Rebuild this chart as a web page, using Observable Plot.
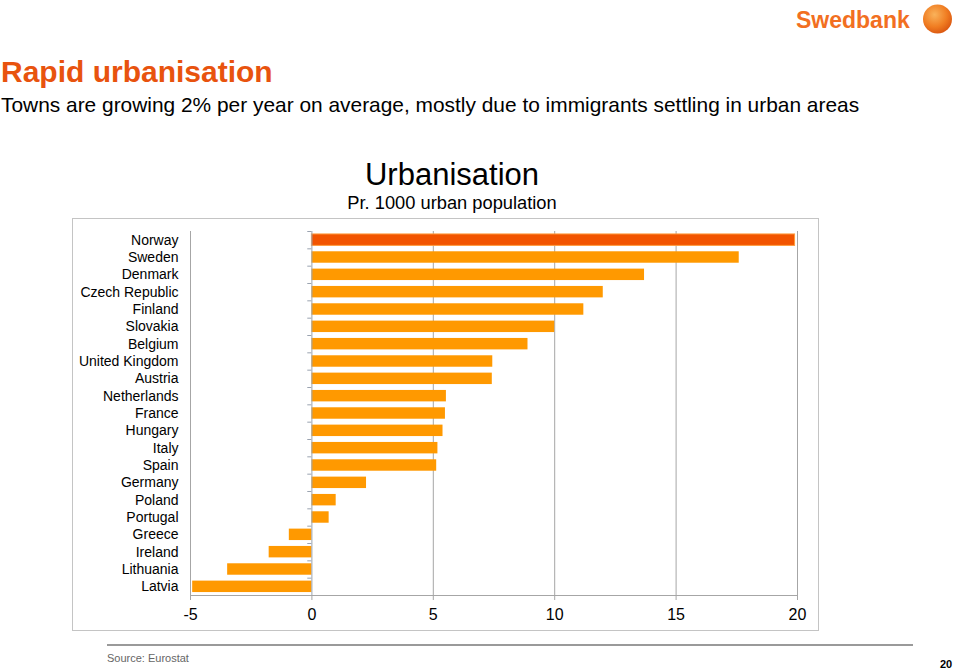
<!DOCTYPE html>
<html>
<head>
<meta charset="utf-8">
<script src="https://cdn.jsdelivr.net/npm/d3@7"></script>
<script src="https://cdn.jsdelivr.net/npm/@observablehq/plot@0.6"></script>
<style>
  html, body { margin: 0; padding: 0; background: #fff; }
  body { width: 960px; height: 669px; position: relative; overflow: hidden; font-family: "Liberation Sans", Arial, sans-serif; }
  #overlay { position: absolute; left: 0; top: 0; }
  #chartbox { position: absolute; left: 72px; top: 218px; width: 745px; height: 411px; border: 1.5px solid #c4c4c4; }
  #chart { position: absolute; left: 0; top: 0; }
</style>
</head>
<body>
<svg id="overlay" width="960" height="669">
  <defs>
    <radialGradient id="logoGrad" cx="0.4" cy="0.35" r="0.7">
      <stop offset="0" stop-color="#f9b25a"/>
      <stop offset="0.6" stop-color="#f07d22"/>
      <stop offset="1" stop-color="#d9540f"/>
    </radialGradient>
  </defs>
  <text x="796" y="28" font-family="'Liberation Sans', Arial, sans-serif" font-weight="bold" font-size="23" fill="#f26f21">Swedbank</text>
  <circle cx="937.5" cy="19" r="14.5" fill="url(#logoGrad)"/>
  <text x="1" y="82" font-family="'Liberation Sans', Arial, sans-serif" font-weight="bold" font-size="30" fill="#e8530e">Rapid urbanisation</text>
  <text x="1" y="112" font-family="'Liberation Sans', Arial, sans-serif" font-size="20.9" fill="#000">Towns are growing 2% per year on average, mostly due to immigrants settling in urban areas</text>
  <text x="452" y="185" text-anchor="middle" font-family="'Liberation Sans', Arial, sans-serif" font-size="31" fill="#000">Urbanisation</text>
  <text x="452" y="209" text-anchor="middle" font-family="'Liberation Sans', Arial, sans-serif" font-size="18.3" fill="#000">Pr. 1000 urban population</text>
  <line x1="107" x2="913" y1="645" y2="645" stroke="#9a9a9a" stroke-width="2"/>
  <text x="107" y="662" font-family="'Liberation Sans Narrow', 'Liberation Sans', Arial, sans-serif" font-size="11" fill="#666">Source:  Eurostat</text>
  <text x="940" y="668" font-family="'Liberation Sans Narrow', 'Liberation Sans', Arial, sans-serif" font-weight="bold" font-size="11" fill="#000">20</text>
</svg>
<div id="chartbox"><div id="chart"></div></div>
<script>
const countries = ["Norway", "Sweden", "Denmark", "Czech Republic", "Finland", "Slovakia", "Belgium",
  "United Kingdom", "Austria", "Netherlands", "France", "Hungary", "Italy", "Spain", "Germany",
  "Poland", "Portugal", "Greece", "Ireland", "Lithuania", "Latvia"];
const values = [19.9, 17.6, 13.7, 12.0, 11.2, 10.0, 8.9, 7.45, 7.43, 5.54, 5.5, 5.4, 5.19, 5.14, 2.25,
  1.0, 0.71, -0.93, -1.76, -3.47, -4.91];
const highlight = ["Norway"];
const xTicks = [-5, 0, 5, 10, 15, 20];

const data = countries.map((c, i) => ({country: c, value: values[i]}));

const W = 745, H = 411, mTop = 12, mBottom = 35, mLeft = 117, mRight = 21;
const step = (H - mTop - mBottom) / (countries.length);

const chart = Plot.plot({
  width: W,
  height: H,
  marginTop: mTop,
  marginBottom: mBottom,
  marginLeft: mLeft,
  marginRight: mRight,
  style: {fontFamily: "'Liberation Sans', Arial, sans-serif", background: "transparent", color: "#000"},
  x: {domain: [-5, 20], ticks: xTicks, label: null},
  y: {domain: countries, paddingInner: 0.34, paddingOuter: 0.17, round: false, label: null},
  marks: [
    Plot.gridX(xTicks.filter(t => t > 0), {stroke: "#a6a6a6", strokeOpacity: 1, strokeWidth: 1}),
    Plot.frame({anchor: "bottom", stroke: "#a6a6a6", strokeWidth: 1}),
    Plot.ruleX([-5], {stroke: "#a6a6a6", strokeWidth: 1}),
    Plot.barX(data, {
      x: "value", y: "country",
      fill: d => highlight.includes(d.country) ? "#f25400" : "#ff9900",
      stroke: d => highlight.includes(d.country) ? "#ff9a3a" : "none",
      strokeWidth: 1
    }),
    Plot.ruleX([0], {stroke: "#9aa3b0", strokeWidth: 1}),
    Plot.ruleY(countries, {y: d => d, x1: -0.17, x2: 0, dy: -step / 2, stroke: "#9aa3b0", strokeWidth: 1}),
    Plot.axisX({ticks: xTicks, tickSize: 5, tickPadding: 8, fontSize: 16, stroke: "#a6a6a6", strokeOpacity: 1, label: null, tickFormat: d => String(d)}),
    Plot.axisY({tickSize: 0, tickPadding: 12, fontSize: 14, label: null})
  ]
});
document.getElementById("chart").appendChild(chart);
</script>
</body>
</html>
